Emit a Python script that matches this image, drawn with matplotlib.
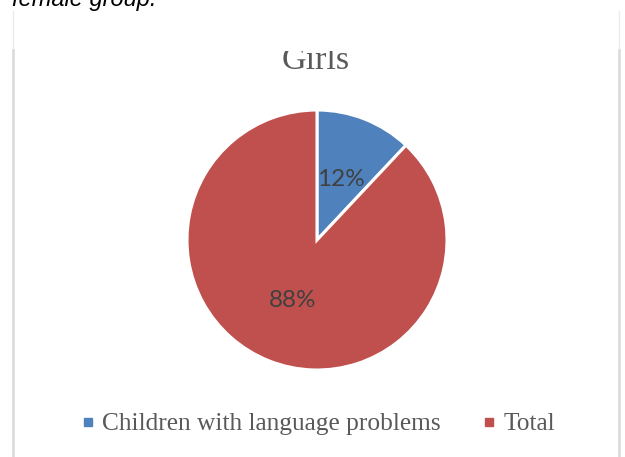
import matplotlib
matplotlib.use("Agg")
import matplotlib.pyplot as plt
from matplotlib.lines import Line2D
from matplotlib.transforms import Bbox, TransformedBbox

# Data
categories = ["Children with language problems", "Total"]
shares = [12, 88]
colors = ["#4F81BD", "#C0504D"]
chart_title = "Girls"
caption_tail = "female group."

W, H = 625, 457
fig = plt.figure(figsize=(W / 100, H / 100), dpi=100)
fig.patch.set_facecolor("white")


def fx(px):
    return px / W


def fy(py):
    return 1 - py / H


# Caption line running off the top of the page
fig.text(fx(12), fy(6), caption_tail, fontsize=17, style="italic",
         family="Liberation Sans", color="black", va="baseline", ha="left")

# Chart frame edges
for x in (13, 618.5):
    fig.add_artist(Line2D([fx(x), fx(x)], [fy(11), fy(50)], color="#ebebeb",
                          lw=1.0, transform=fig.transFigure))
    fig.add_artist(Line2D([fx(x), fx(x)], [fy(50), fy(457)], color="#d9d9d9",
                          lw=1.8, transform=fig.transFigure))

# Pie
cx, cy, r = 317, 240, 130
ax = fig.add_axes([fx(cx - r), fy(cy + r), 2 * r / W, 2 * r / H])
wedges, texts, autotexts = ax.pie(
    shares, colors=colors, startangle=90, counterclock=False,
    autopct="%d%%", pctdistance=0.5,
    wedgeprops=dict(edgecolor="white", linewidth=2.2),
    textprops=dict(family="Lato", fontsize=17.5, color="#404040"),
)
ax.set_xlim(-1.0, 1.0)
ax.set_ylim(-1.0, 1.0)
ax.set_aspect("equal")
ax.axis("off")

# Title, cut off by the top of the chart area
title = fig.text(fx(316), fy(69), chart_title, fontsize=24.5, family="Liberation Serif",
                 color="#595959", ha="center", va="baseline")
clip = TransformedBbox(Bbox([[0, 0], [1, fy(51)]]), fig.transFigure)
title.set_clip_box(clip)
title.set_clip_on(True)

# Legend
handles = [Line2D([], [], marker="s", linestyle="none", markersize=6,
                  markerfacecolor=c, markeredgecolor=c) for c in colors]
fig.legend(handles, categories, loc="center", bbox_to_anchor=(fx(318.5), fy(424)),
           ncol=2, frameon=False, handlelength=0.5, handletextpad=0.3,
           columnspacing=1.65, prop=dict(family="Liberation Serif", size=18.3),
           labelcolor="#595959")

fig.savefig("out.png", dpi=100, facecolor="white")
